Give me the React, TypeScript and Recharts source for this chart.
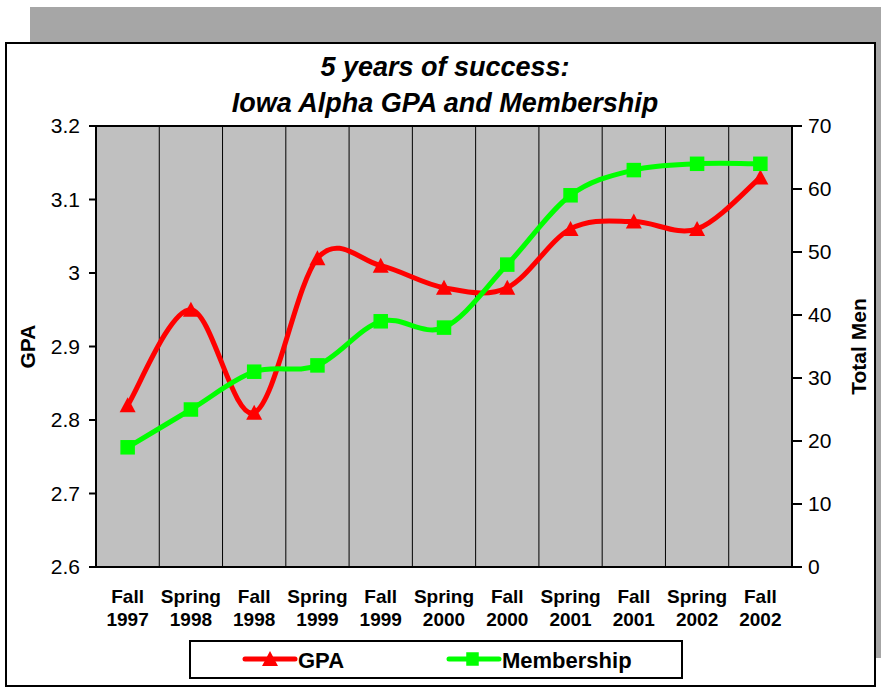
import React from "react";
import { LineChart, Line, XAxis, YAxis, CartesianGrid, ReferenceLine, Label } from "recharts";

// ============[ DATA ]============
const seasons = ["Fall", "Spring", "Fall", "Spring", "Fall", "Spring", "Fall", "Spring", "Fall", "Spring", "Fall"];
const years = ["1997", "1998", "1998", "1999", "1999", "2000", "2000", "2001", "2001", "2002", "2002"];
const gpaValues = [2.82, 2.95, 2.81, 3.02, 3.01, 2.98, 2.98, 3.06, 3.07, 3.06, 3.13];
const memberValues = [19, 25, 31, 32, 39, 38, 48, 59, 63, 64, 64];
const gpaTicks = [2.6, 2.7, 2.8, 2.9, 3, 3.1, 3.2];
const menTicks = [0, 10, 20, 30, 40, 50, 60, 70];
const boundaryTicks = [0, 1, 2, 3, 4, 5, 6, 7, 8, 9, 10, 11];
const labelTicks = [0.5, 1.5, 2.5, 3.5, 4.5, 5.5, 6.5, 7.5, 8.5, 9.5, 10.5];

const rows = seasons.map((s, i) => ({
  pos: i + 0.5,
  gpa: gpaValues[i],
  members: memberValues[i],
}));

const FONT = '"Liberation Sans", Arial, Helvetica, sans-serif';
const RED = "#FF0000";
const GREEN = "#00FF00";

// excel-ish smoothed line (catmull-rom as bezier)
const smoothCurve: any = (context: any) => {
  let pts: number[][] = [];
  return {
    areaStart() {},
    areaEnd() {},
    lineStart() {
      pts = [];
    },
    point(x: number, y: number) {
      pts.push([+x, +y]);
    },
    lineEnd() {
      if (!pts.length) return;
      context.moveTo(pts[0][0], pts[0][1]);
      for (let i = 0; i < pts.length - 1; i++) {
        const p0 = pts[i - 1] || pts[i];
        const p1 = pts[i];
        const p2 = pts[i + 1];
        const p3 = pts[i + 2] || p2;
        context.bezierCurveTo(
          p1[0] + (p2[0] - p0[0]) / 6,
          p1[1] + (p2[1] - p0[1]) / 6,
          p2[0] - (p3[0] - p1[0]) / 6,
          p2[1] - (p3[1] - p1[1]) / 6,
          p2[0],
          p2[1]
        );
      }
    },
  };
};

// vertical grid at category boundaries, from the x scale
const boundaryLines = ({ xAxis, offset }: any) => {
  if (xAxis && typeof xAxis.scale === "function") {
    return boundaryTicks.map((t) => xAxis.scale(t));
  }
  return boundaryTicks.map((t) => offset.left + (t / 11) * offset.width);
};

const TriangleDot = (p: any) => {
  const { cx, cy, index } = p;
  return <path key={`tri-${index}`} d={`M${cx},${cy - 8} L${cx + 8},${cy + 7} L${cx - 8},${cy + 7} Z`} fill={RED} />;
};

const SquareDot = (p: any) => {
  const { cx, cy, index } = p;
  return (
    <rect key={`sq-${index}`} x={cx - 6.5} y={cy - 6.5} width={13} height={13} fill={GREEN} stroke={GREEN} strokeWidth={1.5} />
  );
};

const CategoryTick = (p: any) => {
  const { x, y, payload } = p;
  const i = Math.round(payload.value - 0.5);
  return (
    <text x={x} textAnchor="middle" fontFamily={FONT} fontWeight="bold" fontSize={19} fill="#000">
      <tspan x={x} y={y + 35}>{seasons[i]}</tspan>
      <tspan x={x} y={y + 58}>{years[i]}</tspan>
    </text>
  );
};

const axisTitle = (text: string, dx: number) => (props: any) => {
  const vb = props.viewBox || {};
  const cx = vb.x + dx;
  const cy = vb.y + vb.height / 2;
  return (
    <text
      x={cx}
      y={cy}
      transform={`rotate(-90, ${cx}, ${cy})`}
      textAnchor="middle"
      dominantBaseline="central"
      fontFamily={FONT}
      fontWeight="bold"
      fontSize={21}
      fill="#000"
    >
      {text}
    </text>
  );
};

const tickStyle = { fontSize: 21, fill: "#000", fontFamily: FONT };

export default function App() {
  return (
    <div style={{ position: "absolute", left: 0, top: 0, width: 881, height: 688, background: "#fff", fontFamily: FONT }}>
      {/* shadow + frame */}
      <div style={{ position: "absolute", left: 30, top: 7, width: 851, height: 651, background: "#A6A6A6" }} />
      <div
        style={{
          position: "absolute",
          left: 5,
          top: 42,
          width: 871,
          height: 645,
          background: "#fff",
          border: "2px solid #000",
          boxSizing: "border-box",
        }}
      />

      <div style={{ position: "absolute", left: 0, top: 0 }}>
        <LineChart width={881} height={688} data={rows} margin={{ top: 126, right: 9, left: 6, bottom: 60 }}>
          <CartesianGrid
            xAxisId={0}
            yAxisId="gpa"
            horizontal={false}
            vertical
            verticalCoordinatesGenerator={boundaryLines}
            stroke="#000"
            strokeWidth={1}
            fill="#C0C0C0"
            fillOpacity={1}
          />
          <XAxis
            xAxisId={0}
            dataKey="pos"
            type="number"
            domain={[0, 11]}
            ticks={boundaryTicks}
            interval={0}
            height={1}
            tick={false}
            tickSize={6}
            axisLine={{ stroke: "#000", strokeWidth: 2 }}
            tickLine={{ stroke: "#000", strokeWidth: 2 }}
          />
          <XAxis
            xAxisId="lab"
            dataKey="pos"
            type="number"
            domain={[0, 11]}
            ticks={labelTicks}
            interval={0}
            height={60}
            axisLine={false}
            tickLine={false}
            tickSize={0}
            tickMargin={0}
            tick={<CategoryTick />}
          />
          <YAxis
            yAxisId="gpa"
            orientation="left"
            domain={[2.6, 3.2]}
            ticks={gpaTicks}
            interval={0}
            width={90}
            tick={tickStyle}
            tickSize={7}
            tickMargin={9}
            axisLine={{ stroke: "#000", strokeWidth: 2 }}
            tickLine={{ stroke: "#000", strokeWidth: 2 }}
            allowDataOverflow
          >
            <Label content={axisTitle("GPA", 21)} />
          </YAxis>
          <YAxis
            yAxisId="men"
            orientation="right"
            domain={[0, 70]}
            ticks={menTicks}
            interval={0}
            width={80}
            tick={tickStyle}
            tickSize={10}
            tickMargin={6}
            axisLine={{ stroke: "#000", strokeWidth: 2 }}
            tickLine={{ stroke: "#000", strokeWidth: 2 }}
            allowDataOverflow
          >
            <Label content={axisTitle("Total Men", 66)} />
          </YAxis>
          <ReferenceLine yAxisId="gpa" y={3.2} stroke="#000" strokeWidth={2} />
          <Line
            yAxisId="gpa"
            dataKey="gpa"
            name="GPA"
            type={smoothCurve}
            stroke={RED}
            strokeWidth={5}
            dot={TriangleDot}
            activeDot={false}
            isAnimationActive={false}
          />
          <Line
            yAxisId="men"
            dataKey="members"
            name="Membership"
            type={smoothCurve}
            stroke={GREEN}
            strokeWidth={5}
            dot={SquareDot}
            activeDot={false}
            isAnimationActive={false}
          />
        </LineChart>
      </div>

      {/* title + legend */}
      <svg width={881} height={688} style={{ position: "absolute", left: 0, top: 0, pointerEvents: "none" }}>
        <text x={445} textAnchor="middle" fontFamily={FONT} fontWeight="bold" fontStyle="italic" fontSize={27} fill="#000">
          <tspan x={445} y={76}>5 years of success:</tspan>
          <tspan x={445} y={112}>Iowa Alpha GPA and Membership</tspan>
        </text>
        <rect x={190} y={641} width={492} height={37} fill="#fff" stroke="#000" strokeWidth={2} />
        <line x1={245} y1={659} x2={295} y2={659} stroke={RED} strokeWidth={5} strokeLinecap="round" />
        <path d="M270,651 L278,666 L262,666 Z" fill={RED} />
        <text x={298} y={668} fontFamily={FONT} fontWeight="bold" fontSize={22} fill="#000">
          GPA
        </text>
        <line x1={449} y1={659} x2={499} y2={659} stroke={GREEN} strokeWidth={5} strokeLinecap="round" />
        <rect x={467} y={653} width={11} height={12} fill={GREEN} stroke={GREEN} strokeWidth={1.5} />
        <text x={502} y={668} fontFamily={FONT} fontWeight="bold" fontSize={22} fill="#000">
          Membership
        </text>
      </svg>
    </div>
  );
}
